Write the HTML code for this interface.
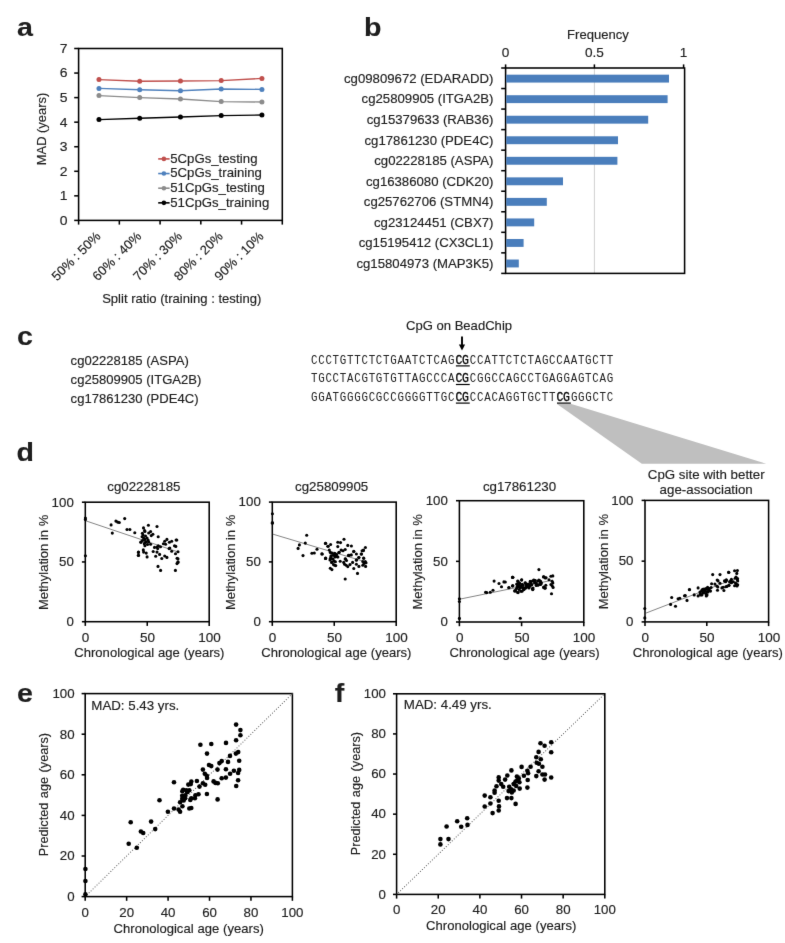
<!DOCTYPE html>
<html><head><meta charset="utf-8"><style>
html,body{margin:0;padding:0;background:#fff;overflow:hidden;}
svg{display:block;}
text{font-family:"Liberation Sans",sans-serif;stroke:#1e1e1e;stroke-width:0.15px;}
.mono{font-family:"Liberation Mono",monospace;stroke:none;fill:#222;}
.mono.b{stroke:#000;stroke-width:0.3px;fill:#000;}

</style></head><body>
<svg width="785" height="943" viewBox="0 0 785 943" fill="#1e1e1e">
<defs><filter id="bl" x="0" y="0" width="785" height="943" filterUnits="userSpaceOnUse" primitiveUnits="userSpaceOnUse" color-interpolation-filters="sRGB"><feConvolveMatrix order="3" kernelMatrix="0.00524 0.06192 0.00524 0.06192 0.73137 0.06192 0.00524 0.06192 0.00524" divisor="1" edgeMode="duplicate" preserveAlpha="true"/></filter></defs>
<g filter="url(#bl)">
<rect width="785" height="943" fill="#fff"/>
<text transform="translate(16.9,35.6) scale(1.1,1)" font-size="26" font-weight="bold">a</text>
<text transform="translate(364,35.8) scale(1.1,1)" font-size="26" font-weight="bold">b</text>
<text transform="translate(16.9,344.6) scale(1.1,1)" font-size="26" font-weight="bold">c</text>
<text transform="translate(16.6,461.4) scale(1.1,1)" font-size="26" font-weight="bold">d</text>
<text transform="translate(17,702.3) scale(1.1,1)" font-size="26" font-weight="bold">e</text>
<text transform="translate(334.8,701.9) scale(1.1,1)" font-size="26" font-weight="bold">f</text>
<rect x="78.6" y="48.5" width="203.7" height="171.9" fill="none" stroke="#000" stroke-width="1.55"/>
<line x1="74.2" y1="220.4" x2="78.6" y2="220.4" stroke="#000" stroke-width="1.55"/>
<text transform="translate(67.6,224.8) scale(1.09,1)" font-size="12.8" text-anchor="end">0</text>
<line x1="74.2" y1="195.84" x2="78.6" y2="195.84" stroke="#000" stroke-width="1.55"/>
<text transform="translate(67.6,200.24) scale(1.09,1)" font-size="12.8" text-anchor="end">1</text>
<line x1="74.2" y1="171.29" x2="78.6" y2="171.29" stroke="#000" stroke-width="1.55"/>
<text transform="translate(67.6,175.69) scale(1.09,1)" font-size="12.8" text-anchor="end">2</text>
<line x1="74.2" y1="146.73" x2="78.6" y2="146.73" stroke="#000" stroke-width="1.55"/>
<text transform="translate(67.6,151.13) scale(1.09,1)" font-size="12.8" text-anchor="end">3</text>
<line x1="74.2" y1="122.17" x2="78.6" y2="122.17" stroke="#000" stroke-width="1.55"/>
<text transform="translate(67.6,126.57) scale(1.09,1)" font-size="12.8" text-anchor="end">4</text>
<line x1="74.2" y1="97.61" x2="78.6" y2="97.61" stroke="#000" stroke-width="1.55"/>
<text transform="translate(67.6,102.01) scale(1.09,1)" font-size="12.8" text-anchor="end">5</text>
<line x1="74.2" y1="73.06" x2="78.6" y2="73.06" stroke="#000" stroke-width="1.55"/>
<text transform="translate(67.6,77.46) scale(1.09,1)" font-size="12.8" text-anchor="end">6</text>
<line x1="74.2" y1="48.5" x2="78.6" y2="48.5" stroke="#000" stroke-width="1.55"/>
<text transform="translate(67.6,52.9) scale(1.09,1)" font-size="12.8" text-anchor="end">7</text>
<line x1="78.6" y1="220.4" x2="78.6" y2="224.6" stroke="#000" stroke-width="1.55"/>
<line x1="119.34" y1="220.4" x2="119.34" y2="224.6" stroke="#000" stroke-width="1.55"/>
<line x1="160.08" y1="220.4" x2="160.08" y2="224.6" stroke="#000" stroke-width="1.55"/>
<line x1="200.82" y1="220.4" x2="200.82" y2="224.6" stroke="#000" stroke-width="1.55"/>
<line x1="241.56" y1="220.4" x2="241.56" y2="224.6" stroke="#000" stroke-width="1.55"/>
<line x1="282.3" y1="220.4" x2="282.3" y2="224.6" stroke="#000" stroke-width="1.55"/>
<text transform="translate(101.37,237) rotate(-45)" font-size="13" text-anchor="end">50% : 50%</text>
<text transform="translate(142.11,237) rotate(-45)" font-size="13" text-anchor="end">60% : 40%</text>
<text transform="translate(182.85,237) rotate(-45)" font-size="13" text-anchor="end">70% : 30%</text>
<text transform="translate(223.59,237) rotate(-45)" font-size="13" text-anchor="end">80% : 20%</text>
<text transform="translate(264.33,237) rotate(-45)" font-size="13" text-anchor="end">90% : 10%</text>
<text transform="translate(181.7,303) scale(1.09,1)" font-size="12" text-anchor="middle">Split ratio (training : testing)</text>
<text transform="translate(45.6,129) scale(1.04,1) rotate(-90)" font-size="12.9" text-anchor="middle">MAD (years)</text>
<polyline points="98.97,79.6 139.71,81.2 180.45,81 221.19,80.6 261.93,78.4" fill="none" stroke="#c0504d" stroke-width="1.4"/>
<circle cx="98.97" cy="79.6" r="2.5" fill="#c0504d"/>
<circle cx="139.71" cy="81.2" r="2.5" fill="#c0504d"/>
<circle cx="180.45" cy="81" r="2.5" fill="#c0504d"/>
<circle cx="221.19" cy="80.6" r="2.5" fill="#c0504d"/>
<circle cx="261.93" cy="78.4" r="2.5" fill="#c0504d"/>
<polyline points="98.97,88.4 139.71,89.8 180.45,90.8 221.19,89 261.93,89.4" fill="none" stroke="#4f81bd" stroke-width="1.4"/>
<circle cx="98.97" cy="88.4" r="2.5" fill="#4f81bd"/>
<circle cx="139.71" cy="89.8" r="2.5" fill="#4f81bd"/>
<circle cx="180.45" cy="90.8" r="2.5" fill="#4f81bd"/>
<circle cx="221.19" cy="89" r="2.5" fill="#4f81bd"/>
<circle cx="261.93" cy="89.4" r="2.5" fill="#4f81bd"/>
<polyline points="98.97,95.6 139.71,97.6 180.45,99 221.19,101.6 261.93,102" fill="none" stroke="#8c8c8c" stroke-width="1.4"/>
<circle cx="98.97" cy="95.6" r="2.5" fill="#8c8c8c"/>
<circle cx="139.71" cy="97.6" r="2.5" fill="#8c8c8c"/>
<circle cx="180.45" cy="99" r="2.5" fill="#8c8c8c"/>
<circle cx="221.19" cy="101.6" r="2.5" fill="#8c8c8c"/>
<circle cx="261.93" cy="102" r="2.5" fill="#8c8c8c"/>
<polyline points="98.97,119.6 139.71,118.2 180.45,117 221.19,115.6 261.93,115" fill="none" stroke="#000000" stroke-width="1.4"/>
<circle cx="98.97" cy="119.6" r="2.5" fill="#000000"/>
<circle cx="139.71" cy="118.2" r="2.5" fill="#000000"/>
<circle cx="180.45" cy="117" r="2.5" fill="#000000"/>
<circle cx="221.19" cy="115.6" r="2.5" fill="#000000"/>
<circle cx="261.93" cy="115" r="2.5" fill="#000000"/>
<line x1="158.2" y1="158.9" x2="169.6" y2="158.9" stroke="#c0504d" stroke-width="1.6"/>
<circle cx="163.9" cy="158.9" r="2.3" fill="#c0504d"/>
<text transform="translate(170.2,162.8) scale(1.1,1)" font-size="12">5CpGs_testing</text>
<line x1="158.2" y1="173.55" x2="169.6" y2="173.55" stroke="#4f81bd" stroke-width="1.6"/>
<circle cx="163.9" cy="173.55" r="2.3" fill="#4f81bd"/>
<text transform="translate(170.2,177.45) scale(1.1,1)" font-size="12">5CpGs_training</text>
<line x1="158.2" y1="188.2" x2="169.6" y2="188.2" stroke="#8c8c8c" stroke-width="1.6"/>
<circle cx="163.9" cy="188.2" r="2.3" fill="#8c8c8c"/>
<text transform="translate(170.2,192.1) scale(1.1,1)" font-size="12">51CpGs_testing</text>
<line x1="158.2" y1="202.85" x2="169.6" y2="202.85" stroke="#000000" stroke-width="1.6"/>
<circle cx="163.9" cy="202.85" r="2.3" fill="#000000"/>
<text transform="translate(170.2,206.75) scale(1.1,1)" font-size="12">51CpGs_training</text>
<line x1="594.4" y1="68" x2="594.4" y2="273.4" stroke="#d0d0d0" stroke-width="1"/>
<rect x="505.6" y="68" width="179" height="205.4" fill="none" stroke="#000" stroke-width="1.55"/>
<line x1="505.6" y1="64.4" x2="505.6" y2="68" stroke="#000" stroke-width="1.55"/>
<text transform="translate(505.6,56.7) scale(1.09,1)" font-size="12.5" text-anchor="middle">0</text>
<line x1="594.4" y1="64.4" x2="594.4" y2="68" stroke="#000" stroke-width="1.55"/>
<text transform="translate(594.4,56.7) scale(1.09,1)" font-size="12.5" text-anchor="middle">0.5</text>
<line x1="683.6" y1="64.4" x2="683.6" y2="68" stroke="#000" stroke-width="1.55"/>
<text transform="translate(683.6,56.7) scale(1.09,1)" font-size="12.5" text-anchor="middle">1</text>
<text transform="translate(598,39.4) scale(1.09,1)" font-size="12" text-anchor="middle">Frequency</text>
<line x1="501.2" y1="68" x2="505.6" y2="68" stroke="#000" stroke-width="1.55"/>
<line x1="501.2" y1="88.54" x2="505.6" y2="88.54" stroke="#000" stroke-width="1.55"/>
<line x1="501.2" y1="109.08" x2="505.6" y2="109.08" stroke="#000" stroke-width="1.55"/>
<line x1="501.2" y1="129.62" x2="505.6" y2="129.62" stroke="#000" stroke-width="1.55"/>
<line x1="501.2" y1="150.16" x2="505.6" y2="150.16" stroke="#000" stroke-width="1.55"/>
<line x1="501.2" y1="170.7" x2="505.6" y2="170.7" stroke="#000" stroke-width="1.55"/>
<line x1="501.2" y1="191.24" x2="505.6" y2="191.24" stroke="#000" stroke-width="1.55"/>
<line x1="501.2" y1="211.78" x2="505.6" y2="211.78" stroke="#000" stroke-width="1.55"/>
<line x1="501.2" y1="232.32" x2="505.6" y2="232.32" stroke="#000" stroke-width="1.55"/>
<line x1="501.2" y1="252.86" x2="505.6" y2="252.86" stroke="#000" stroke-width="1.55"/>
<line x1="501.2" y1="273.4" x2="505.6" y2="273.4" stroke="#000" stroke-width="1.55"/>
<rect x="506.2" y="74.67" width="162.8" height="7.9" fill="#4a7ebc"/>
<text transform="translate(493.4,82.92) scale(1.09,1)" font-size="12.1" text-anchor="end">cg09809672 (EDARADD)</text>
<rect x="506.2" y="95.21" width="161.4" height="7.9" fill="#4a7ebc"/>
<text transform="translate(493.4,103.46) scale(1.09,1)" font-size="12.1" text-anchor="end">cg25809905 (ITGA2B)</text>
<rect x="506.2" y="115.75" width="142" height="7.9" fill="#4a7ebc"/>
<text transform="translate(493.4,124) scale(1.09,1)" font-size="12.1" text-anchor="end">cg15379633 (RAB36)</text>
<rect x="506.2" y="136.29" width="111.8" height="7.9" fill="#4a7ebc"/>
<text transform="translate(493.4,144.54) scale(1.09,1)" font-size="12.1" text-anchor="end">cg17861230 (PDE4C)</text>
<rect x="506.2" y="156.83" width="111.2" height="7.9" fill="#4a7ebc"/>
<text transform="translate(493.4,165.08) scale(1.09,1)" font-size="12.1" text-anchor="end">cg02228185 (ASPA)</text>
<rect x="506.2" y="177.37" width="56.8" height="7.9" fill="#4a7ebc"/>
<text transform="translate(493.4,185.62) scale(1.09,1)" font-size="12.1" text-anchor="end">cg16386080 (CDK20)</text>
<rect x="506.2" y="197.91" width="40.6" height="7.9" fill="#4a7ebc"/>
<text transform="translate(493.4,206.16) scale(1.09,1)" font-size="12.1" text-anchor="end">cg25762706 (STMN4)</text>
<rect x="506.2" y="218.45" width="28" height="7.9" fill="#4a7ebc"/>
<text transform="translate(493.4,226.7) scale(1.09,1)" font-size="12.1" text-anchor="end">cg23124451 (CBX7)</text>
<rect x="506.2" y="238.99" width="17.4" height="7.9" fill="#4a7ebc"/>
<text transform="translate(493.4,247.24) scale(1.09,1)" font-size="12.1" text-anchor="end">cg15195412 (CX3CL1)</text>
<rect x="506.2" y="259.53" width="12.6" height="7.9" fill="#4a7ebc"/>
<text transform="translate(493.4,267.78) scale(1.09,1)" font-size="12.1" text-anchor="end">cg15804973 (MAP3K5)</text>
<text transform="translate(70.6,365.4) scale(1.09,1)" font-size="12">cg02228185 (ASPA)</text>
<text transform="translate(70.6,384) scale(1.09,1)" font-size="12">cg25809905 (ITGA2B)</text>
<text transform="translate(70.6,402.6) scale(1.09,1)" font-size="12">cg17861230 (PDE4C)</text>
<polygon points="557.0,403.9 571.4,403.9 766.2,463.8 641.8,463.8" fill="#bfbfbf"/>
<text class="mono" transform="translate(311,363.8) scale(0.88,1)" font-size="12.3" textLength="162.95" lengthAdjust="spacing">CCCTGTTCTCTGAATCTCAG</text>
<text class="mono b" transform="translate(455.4,363.8) scale(0.93,1)" font-size="12.3" textLength="14.45" lengthAdjust="spacing">CG</text>
<line x1="455.9" y1="365.9" x2="469.74" y2="365.9" stroke="#000" stroke-width="1.2"/>
<text class="mono" transform="translate(469.84,363.8) scale(0.88,1)" font-size="12.3" textLength="162.95" lengthAdjust="spacing">CCATTCTCTAGCCAATGCTT</text>
<text class="mono" transform="translate(311,382.4) scale(0.88,1)" font-size="12.3" textLength="162.95" lengthAdjust="spacing">TGCCTACGTGTGTTAGCCCA</text>
<text class="mono b" transform="translate(455.4,382.4) scale(0.93,1)" font-size="12.3" textLength="14.45" lengthAdjust="spacing">CG</text>
<line x1="455.9" y1="384.5" x2="469.74" y2="384.5" stroke="#000" stroke-width="1.2"/>
<text class="mono" transform="translate(469.84,382.4) scale(0.88,1)" font-size="12.3" textLength="162.95" lengthAdjust="spacing">CGGCCAGCCTGAGGAGTCAG</text>
<text class="mono" transform="translate(311,401) scale(0.88,1)" font-size="12.3" textLength="162.95" lengthAdjust="spacing">GGATGGGGCGCCGGGGTTGC</text>
<text class="mono b" transform="translate(455.4,401) scale(0.93,1)" font-size="12.3" textLength="14.45" lengthAdjust="spacing">CG</text>
<line x1="455.9" y1="403.1" x2="469.74" y2="403.1" stroke="#000" stroke-width="1.2"/>
<text class="mono" transform="translate(469.84,401) scale(0.88,1)" font-size="12.3" textLength="97.32" lengthAdjust="spacing">CCACAGGTGCTT</text>
<text class="mono b" transform="translate(556.48,401) scale(0.93,1)" font-size="12.3" textLength="14.45" lengthAdjust="spacing">CG</text>
<line x1="556.98" y1="403.1" x2="570.82" y2="403.1" stroke="#000" stroke-width="1.2"/>
<text class="mono" transform="translate(570.92,401) scale(0.88,1)" font-size="12.3" textLength="48.09" lengthAdjust="spacing">GGGCTC</text>
<text transform="translate(459,330) scale(1.09,1)" font-size="12" text-anchor="middle">CpG on BeadChip</text>
<line x1="462" y1="336.6" x2="462" y2="346" stroke="#000" stroke-width="1.9"/>
<polygon points="458.9,344.6 465.1,344.6 462,350.4" fill="#000"/>
<rect x="85.3" y="502.2" width="123.9" height="119.5" fill="none" stroke="#000" stroke-width="1.55"/>
<line x1="85.4" y1="520.7" x2="177" y2="551.6" stroke="#333" stroke-width="0.6"/>
<circle cx="85.4" cy="518" r="1.55" fill="#000"/>
<circle cx="85.4" cy="519.6" r="1.55" fill="#000"/>
<circle cx="85.4" cy="555.7" r="1.55" fill="#000"/>
<circle cx="111.1" cy="524.9" r="1.55" fill="#000"/>
<circle cx="112.3" cy="533.1" r="1.55" fill="#000"/>
<circle cx="115.9" cy="521.1" r="1.55" fill="#000"/>
<circle cx="117.6" cy="522.1" r="1.55" fill="#000"/>
<circle cx="119.3" cy="522.5" r="1.55" fill="#000"/>
<circle cx="124.7" cy="518.6" r="1.55" fill="#000"/>
<circle cx="127" cy="529.5" r="1.55" fill="#000"/>
<circle cx="129.9" cy="529.5" r="1.55" fill="#000"/>
<circle cx="134.8" cy="532.7" r="1.55" fill="#000"/>
<circle cx="138.4" cy="552.4" r="1.55" fill="#000"/>
<circle cx="138.4" cy="555.5" r="1.55" fill="#000"/>
<circle cx="141" cy="542.1" r="1.55" fill="#000"/>
<circle cx="148.4" cy="525.2" r="1.55" fill="#000"/>
<circle cx="157" cy="526.5" r="1.55" fill="#000"/>
<circle cx="143.5" cy="527.9" r="1.55" fill="#000"/>
<circle cx="144.6" cy="530.5" r="1.55" fill="#000"/>
<circle cx="144.9" cy="531.4" r="1.55" fill="#000"/>
<circle cx="142.4" cy="533.3" r="1.55" fill="#000"/>
<circle cx="150.6" cy="531.6" r="1.55" fill="#000"/>
<circle cx="148.7" cy="533" r="1.55" fill="#000"/>
<circle cx="152.9" cy="534.3" r="1.55" fill="#000"/>
<circle cx="151.3" cy="535.6" r="1.55" fill="#000"/>
<circle cx="158.2" cy="536.7" r="1.55" fill="#000"/>
<circle cx="142.1" cy="536.8" r="1.55" fill="#000"/>
<circle cx="143.6" cy="538.1" r="1.55" fill="#000"/>
<circle cx="144.9" cy="539.4" r="1.55" fill="#000"/>
<circle cx="148.1" cy="540" r="1.55" fill="#000"/>
<circle cx="140.8" cy="542.3" r="1.55" fill="#000"/>
<circle cx="146.2" cy="541.9" r="1.55" fill="#000"/>
<circle cx="148.7" cy="541.9" r="1.55" fill="#000"/>
<circle cx="144.3" cy="543.8" r="1.55" fill="#000"/>
<circle cx="144.9" cy="545.8" r="1.55" fill="#000"/>
<circle cx="147.5" cy="544.5" r="1.55" fill="#000"/>
<circle cx="150.6" cy="544.2" r="1.55" fill="#000"/>
<circle cx="166.9" cy="539.4" r="1.55" fill="#000"/>
<circle cx="164.7" cy="541.3" r="1.55" fill="#000"/>
<circle cx="163.4" cy="543.8" r="1.55" fill="#000"/>
<circle cx="165.6" cy="544.2" r="1.55" fill="#000"/>
<circle cx="169.4" cy="542.3" r="1.55" fill="#000"/>
<circle cx="171.7" cy="541.3" r="1.55" fill="#000"/>
<circle cx="176.1" cy="540" r="1.55" fill="#000"/>
<circle cx="176.8" cy="540" r="1.55" fill="#000"/>
<circle cx="174.5" cy="545.8" r="1.55" fill="#000"/>
<circle cx="175.8" cy="546.4" r="1.55" fill="#000"/>
<circle cx="154.5" cy="547.4" r="1.55" fill="#000"/>
<circle cx="157" cy="547" r="1.55" fill="#000"/>
<circle cx="158.3" cy="545.8" r="1.55" fill="#000"/>
<circle cx="160.5" cy="546.7" r="1.55" fill="#000"/>
<circle cx="157.7" cy="548.6" r="1.55" fill="#000"/>
<circle cx="169.8" cy="548" r="1.55" fill="#000"/>
<circle cx="169.1" cy="548.6" r="1.55" fill="#000"/>
<circle cx="171.7" cy="551.2" r="1.55" fill="#000"/>
<circle cx="178" cy="551.8" r="1.55" fill="#000"/>
<circle cx="175.5" cy="553.7" r="1.55" fill="#000"/>
<circle cx="143.3" cy="549.9" r="1.55" fill="#000"/>
<circle cx="143.6" cy="552.1" r="1.55" fill="#000"/>
<circle cx="146.2" cy="553.1" r="1.55" fill="#000"/>
<circle cx="138.5" cy="552.1" r="1.55" fill="#000"/>
<circle cx="138.5" cy="555.3" r="1.55" fill="#000"/>
<circle cx="153.2" cy="551.5" r="1.55" fill="#000"/>
<circle cx="157" cy="552.1" r="1.55" fill="#000"/>
<circle cx="159.6" cy="554.4" r="1.55" fill="#000"/>
<circle cx="147.1" cy="556.9" r="1.55" fill="#000"/>
<circle cx="155.7" cy="556.3" r="1.55" fill="#000"/>
<circle cx="161.8" cy="558.5" r="1.55" fill="#000"/>
<circle cx="164.7" cy="556" r="1.55" fill="#000"/>
<circle cx="166.9" cy="557.4" r="1.55" fill="#000"/>
<circle cx="177.1" cy="558.2" r="1.55" fill="#000"/>
<circle cx="178" cy="558.8" r="1.55" fill="#000"/>
<circle cx="178" cy="561.7" r="1.55" fill="#000"/>
<circle cx="158" cy="566.4" r="1.55" fill="#000"/>
<circle cx="160.6" cy="570.4" r="1.55" fill="#000"/>
<circle cx="175.4" cy="570.4" r="1.55" fill="#000"/>
<circle cx="177" cy="563.6" r="1.55" fill="#000"/>
<circle cx="178" cy="562.4" r="1.55" fill="#000"/>
<circle cx="143" cy="535" r="1.55" fill="#000"/>
<circle cx="145.5" cy="536" r="1.55" fill="#000"/>
<circle cx="147" cy="538" r="1.55" fill="#000"/>
<circle cx="145" cy="542.5" r="1.55" fill="#000"/>
<circle cx="142.5" cy="540.5" r="1.55" fill="#000"/>
<line x1="81.9" y1="621.7" x2="85.3" y2="621.7" stroke="#000" stroke-width="1.55"/>
<text transform="translate(73.8,626) scale(1.09,1)" font-size="12.2" text-anchor="end">0</text>
<line x1="85.3" y1="621.7" x2="85.3" y2="625.9" stroke="#000" stroke-width="1.55"/>
<text transform="translate(85.6,641.9) scale(1.09,1)" font-size="12.4" text-anchor="middle">0</text>
<line x1="81.9" y1="561.95" x2="85.3" y2="561.95" stroke="#000" stroke-width="1.55"/>
<text transform="translate(73.8,566.25) scale(1.09,1)" font-size="12.2" text-anchor="end">50</text>
<line x1="147.25" y1="621.7" x2="147.25" y2="625.9" stroke="#000" stroke-width="1.55"/>
<text transform="translate(147.55,641.9) scale(1.09,1)" font-size="12.4" text-anchor="middle">50</text>
<line x1="81.9" y1="502.2" x2="85.3" y2="502.2" stroke="#000" stroke-width="1.55"/>
<text transform="translate(73.8,506.5) scale(1.09,1)" font-size="12.2" text-anchor="end">100</text>
<line x1="209.2" y1="621.7" x2="209.2" y2="625.9" stroke="#000" stroke-width="1.55"/>
<text transform="translate(209.5,641.9) scale(1.09,1)" font-size="12.4" text-anchor="middle">100</text>
<text transform="translate(143.85,491.2) scale(1.11,1)" font-size="12" text-anchor="middle">cg02228185</text>
<text transform="translate(149.35,657.4) scale(1.09,1)" font-size="12" text-anchor="middle" word-spacing="0.2">Chronological age (years)</text>
<text transform="translate(48.3,562.45) scale(1.04,1) rotate(-90)" font-size="13" text-anchor="middle">Methylation in %</text>
<rect x="272.3" y="502.1" width="123.9" height="119.6" fill="none" stroke="#000" stroke-width="1.55"/>
<line x1="272.4" y1="534" x2="366" y2="562" stroke="#333" stroke-width="0.6"/>
<circle cx="272.4" cy="513.8" r="1.55" fill="#000"/>
<circle cx="272.4" cy="522.6" r="1.55" fill="#000"/>
<circle cx="272.4" cy="523.3" r="1.55" fill="#000"/>
<circle cx="306.7" cy="535.2" r="1.55" fill="#000"/>
<circle cx="305.3" cy="543.1" r="1.55" fill="#000"/>
<circle cx="299.4" cy="544.9" r="1.55" fill="#000"/>
<circle cx="298.1" cy="548.4" r="1.55" fill="#000"/>
<circle cx="303" cy="555.6" r="1.55" fill="#000"/>
<circle cx="311.9" cy="553.3" r="1.55" fill="#000"/>
<circle cx="314.3" cy="553" r="1.55" fill="#000"/>
<circle cx="317" cy="549.3" r="1.55" fill="#000"/>
<circle cx="321.8" cy="553.9" r="1.55" fill="#000"/>
<circle cx="325.4" cy="543.4" r="1.55" fill="#000"/>
<circle cx="327.9" cy="546.3" r="1.55" fill="#000"/>
<circle cx="325.6" cy="558.5" r="1.55" fill="#000"/>
<circle cx="344" cy="539.3" r="1.55" fill="#000"/>
<circle cx="337.8" cy="542.2" r="1.55" fill="#000"/>
<circle cx="340.5" cy="542.6" r="1.55" fill="#000"/>
<circle cx="325.7" cy="543.2" r="1.55" fill="#000"/>
<circle cx="330.6" cy="544.5" r="1.55" fill="#000"/>
<circle cx="328.1" cy="546.3" r="1.55" fill="#000"/>
<circle cx="337.8" cy="546.6" r="1.55" fill="#000"/>
<circle cx="347.8" cy="545.4" r="1.55" fill="#000"/>
<circle cx="351.4" cy="546" r="1.55" fill="#000"/>
<circle cx="365.4" cy="547.5" r="1.55" fill="#000"/>
<circle cx="363.4" cy="550.1" r="1.55" fill="#000"/>
<circle cx="362.1" cy="550.8" r="1.55" fill="#000"/>
<circle cx="345.2" cy="549.5" r="1.55" fill="#000"/>
<circle cx="343" cy="550.8" r="1.55" fill="#000"/>
<circle cx="341.1" cy="550.1" r="1.55" fill="#000"/>
<circle cx="339.1" cy="552.4" r="1.55" fill="#000"/>
<circle cx="329.3" cy="550.1" r="1.55" fill="#000"/>
<circle cx="353.8" cy="551.4" r="1.55" fill="#000"/>
<circle cx="356.4" cy="554" r="1.55" fill="#000"/>
<circle cx="361.2" cy="554" r="1.55" fill="#000"/>
<circle cx="349.1" cy="555.4" r="1.55" fill="#000"/>
<circle cx="351.3" cy="554.9" r="1.55" fill="#000"/>
<circle cx="322.3" cy="554" r="1.55" fill="#000"/>
<circle cx="330.3" cy="552.4" r="1.55" fill="#000"/>
<circle cx="332.2" cy="553.3" r="1.55" fill="#000"/>
<circle cx="334.7" cy="553.3" r="1.55" fill="#000"/>
<circle cx="335.4" cy="554.6" r="1.55" fill="#000"/>
<circle cx="331" cy="555.9" r="1.55" fill="#000"/>
<circle cx="333.5" cy="555.2" r="1.55" fill="#000"/>
<circle cx="337.9" cy="557" r="1.55" fill="#000"/>
<circle cx="336.6" cy="554.6" r="1.55" fill="#000"/>
<circle cx="325.7" cy="558.1" r="1.55" fill="#000"/>
<circle cx="330.9" cy="558.4" r="1.55" fill="#000"/>
<circle cx="345.6" cy="559" r="1.55" fill="#000"/>
<circle cx="358.9" cy="557.5" r="1.55" fill="#000"/>
<circle cx="363.7" cy="558.1" r="1.55" fill="#000"/>
<circle cx="356.4" cy="559.7" r="1.55" fill="#000"/>
<circle cx="325.5" cy="558.4" r="1.55" fill="#000"/>
<circle cx="330.3" cy="558.6" r="1.55" fill="#000"/>
<circle cx="331.6" cy="562.4" r="1.55" fill="#000"/>
<circle cx="335.4" cy="561.8" r="1.55" fill="#000"/>
<circle cx="333.5" cy="564.6" r="1.55" fill="#000"/>
<circle cx="334.7" cy="565.3" r="1.55" fill="#000"/>
<circle cx="335.7" cy="565.6" r="1.55" fill="#000"/>
<circle cx="330.3" cy="568.2" r="1.55" fill="#000"/>
<circle cx="331.9" cy="569.6" r="1.55" fill="#000"/>
<circle cx="340.2" cy="561.3" r="1.55" fill="#000"/>
<circle cx="343.7" cy="562.4" r="1.55" fill="#000"/>
<circle cx="345.2" cy="558.9" r="1.55" fill="#000"/>
<circle cx="346.5" cy="560.5" r="1.55" fill="#000"/>
<circle cx="344.6" cy="564.3" r="1.55" fill="#000"/>
<circle cx="346.2" cy="565.3" r="1.55" fill="#000"/>
<circle cx="347.8" cy="566.6" r="1.55" fill="#000"/>
<circle cx="350" cy="564.6" r="1.55" fill="#000"/>
<circle cx="352.6" cy="562.4" r="1.55" fill="#000"/>
<circle cx="353.8" cy="568.5" r="1.55" fill="#000"/>
<circle cx="356.4" cy="560.2" r="1.55" fill="#000"/>
<circle cx="356.4" cy="564.3" r="1.55" fill="#000"/>
<circle cx="358.9" cy="566.4" r="1.55" fill="#000"/>
<circle cx="358.8" cy="557.6" r="1.55" fill="#000"/>
<circle cx="357.5" cy="573.4" r="1.55" fill="#000"/>
<circle cx="345.2" cy="579" r="1.55" fill="#000"/>
<circle cx="361.5" cy="554.1" r="1.55" fill="#000"/>
<circle cx="363.7" cy="558.3" r="1.55" fill="#000"/>
<circle cx="362.8" cy="561.5" r="1.55" fill="#000"/>
<circle cx="365.3" cy="561.5" r="1.55" fill="#000"/>
<circle cx="364" cy="563.4" r="1.55" fill="#000"/>
<circle cx="366" cy="562.7" r="1.55" fill="#000"/>
<circle cx="362.8" cy="565.3" r="1.55" fill="#000"/>
<circle cx="365.6" cy="566.4" r="1.55" fill="#000"/>
<circle cx="353.8" cy="551.6" r="1.55" fill="#000"/>
<circle cx="338.9" cy="552.5" r="1.55" fill="#000"/>
<circle cx="348.4" cy="555.4" r="1.55" fill="#000"/>
<circle cx="363.4" cy="550.6" r="1.55" fill="#000"/>
<circle cx="337.3" cy="556.7" r="1.55" fill="#000"/>
<circle cx="331" cy="557" r="1.55" fill="#000"/>
<circle cx="333" cy="559" r="1.55" fill="#000"/>
<circle cx="334" cy="561" r="1.55" fill="#000"/>
<circle cx="332" cy="562" r="1.55" fill="#000"/>
<circle cx="335" cy="557" r="1.55" fill="#000"/>
<circle cx="334" cy="555" r="1.55" fill="#000"/>
<circle cx="330" cy="560" r="1.55" fill="#000"/>
<line x1="268.9" y1="621.7" x2="272.3" y2="621.7" stroke="#000" stroke-width="1.55"/>
<text transform="translate(260.8,626) scale(1.09,1)" font-size="12.2" text-anchor="end">0</text>
<line x1="272.3" y1="621.7" x2="272.3" y2="625.9" stroke="#000" stroke-width="1.55"/>
<text transform="translate(272.6,641.9) scale(1.09,1)" font-size="12.4" text-anchor="middle">0</text>
<line x1="268.9" y1="561.9" x2="272.3" y2="561.9" stroke="#000" stroke-width="1.55"/>
<text transform="translate(260.8,566.2) scale(1.09,1)" font-size="12.2" text-anchor="end">50</text>
<line x1="334.25" y1="621.7" x2="334.25" y2="625.9" stroke="#000" stroke-width="1.55"/>
<text transform="translate(334.55,641.9) scale(1.09,1)" font-size="12.4" text-anchor="middle">50</text>
<line x1="268.9" y1="502.1" x2="272.3" y2="502.1" stroke="#000" stroke-width="1.55"/>
<text transform="translate(260.8,506.4) scale(1.09,1)" font-size="12.2" text-anchor="end">100</text>
<line x1="396.2" y1="621.7" x2="396.2" y2="625.9" stroke="#000" stroke-width="1.55"/>
<text transform="translate(396.5,641.9) scale(1.09,1)" font-size="12.4" text-anchor="middle">100</text>
<text transform="translate(331.65,490.9) scale(1.11,1)" font-size="12" text-anchor="middle">cg25809905</text>
<text transform="translate(336.4,657.4) scale(1.09,1)" font-size="12" text-anchor="middle" word-spacing="0.2">Chronological age (years)</text>
<text transform="translate(235.3,562.4) scale(1.04,1) rotate(-90)" font-size="13" text-anchor="middle">Methylation in %</text>
<rect x="459.4" y="500.7" width="124.4" height="121.3" fill="none" stroke="#000" stroke-width="1.55"/>
<line x1="459.6" y1="599.2" x2="553" y2="580.1" stroke="#333" stroke-width="0.6"/>
<circle cx="459.4" cy="598.7" r="1.55" fill="#000"/>
<circle cx="459.4" cy="601.5" r="1.55" fill="#000"/>
<circle cx="459.4" cy="618.4" r="1.55" fill="#000"/>
<circle cx="520.3" cy="618.3" r="1.55" fill="#000"/>
<circle cx="485.6" cy="592.2" r="1.55" fill="#000"/>
<circle cx="486.7" cy="592.6" r="1.55" fill="#000"/>
<circle cx="490.3" cy="592.3" r="1.55" fill="#000"/>
<circle cx="493" cy="590.2" r="1.55" fill="#000"/>
<circle cx="494.1" cy="581.1" r="1.55" fill="#000"/>
<circle cx="499" cy="583.5" r="1.55" fill="#000"/>
<circle cx="501.5" cy="586.7" r="1.55" fill="#000"/>
<circle cx="503.9" cy="581.9" r="1.55" fill="#000"/>
<circle cx="508.9" cy="587.7" r="1.55" fill="#000"/>
<circle cx="512.5" cy="577.4" r="1.55" fill="#000"/>
<circle cx="512.5" cy="586" r="1.55" fill="#000"/>
<circle cx="514.6" cy="590.9" r="1.55" fill="#000"/>
<circle cx="538.9" cy="569.6" r="1.55" fill="#000"/>
<circle cx="512.6" cy="577.3" r="1.55" fill="#000"/>
<circle cx="505.3" cy="582" r="1.55" fill="#000"/>
<circle cx="508.9" cy="587.5" r="1.55" fill="#000"/>
<circle cx="512.6" cy="585.8" r="1.55" fill="#000"/>
<circle cx="517.7" cy="581" r="1.55" fill="#000"/>
<circle cx="521.6" cy="580.1" r="1.55" fill="#000"/>
<circle cx="517.1" cy="584.2" r="1.55" fill="#000"/>
<circle cx="519.6" cy="583.6" r="1.55" fill="#000"/>
<circle cx="522.2" cy="584.2" r="1.55" fill="#000"/>
<circle cx="517.7" cy="586.8" r="1.55" fill="#000"/>
<circle cx="520.3" cy="587.4" r="1.55" fill="#000"/>
<circle cx="522.8" cy="588" r="1.55" fill="#000"/>
<circle cx="515.2" cy="590.9" r="1.55" fill="#000"/>
<circle cx="517.7" cy="592.5" r="1.55" fill="#000"/>
<circle cx="520.9" cy="591.2" r="1.55" fill="#000"/>
<circle cx="524.1" cy="589.3" r="1.55" fill="#000"/>
<circle cx="525.4" cy="582.9" r="1.55" fill="#000"/>
<circle cx="527.3" cy="584.2" r="1.55" fill="#000"/>
<circle cx="526" cy="587.4" r="1.55" fill="#000"/>
<circle cx="529.2" cy="585.5" r="1.55" fill="#000"/>
<circle cx="530.5" cy="581.7" r="1.55" fill="#000"/>
<circle cx="532.4" cy="581" r="1.55" fill="#000"/>
<circle cx="534.3" cy="580.4" r="1.55" fill="#000"/>
<circle cx="531.8" cy="584.8" r="1.55" fill="#000"/>
<circle cx="533" cy="588" r="1.55" fill="#000"/>
<circle cx="532.7" cy="589.3" r="1.55" fill="#000"/>
<circle cx="536.2" cy="582.9" r="1.55" fill="#000"/>
<circle cx="538.1" cy="581" r="1.55" fill="#000"/>
<circle cx="539.7" cy="580.7" r="1.55" fill="#000"/>
<circle cx="540.7" cy="582.3" r="1.55" fill="#000"/>
<circle cx="540.7" cy="584.2" r="1.55" fill="#000"/>
<circle cx="538.1" cy="584.8" r="1.55" fill="#000"/>
<circle cx="536.2" cy="585.5" r="1.55" fill="#000"/>
<circle cx="543.5" cy="576.9" r="1.55" fill="#000"/>
<circle cx="546.1" cy="577.8" r="1.55" fill="#000"/>
<circle cx="545.8" cy="585.2" r="1.55" fill="#000"/>
<circle cx="543.9" cy="587.1" r="1.55" fill="#000"/>
<circle cx="544.8" cy="588.3" r="1.55" fill="#000"/>
<circle cx="549" cy="579.7" r="1.55" fill="#000"/>
<circle cx="550.9" cy="576.2" r="1.55" fill="#000"/>
<circle cx="552.8" cy="575.9" r="1.55" fill="#000"/>
<circle cx="552.1" cy="581.3" r="1.55" fill="#000"/>
<circle cx="552.8" cy="582.9" r="1.55" fill="#000"/>
<circle cx="550.9" cy="584.5" r="1.55" fill="#000"/>
<circle cx="552.1" cy="585.8" r="1.55" fill="#000"/>
<circle cx="553.1" cy="587.4" r="1.55" fill="#000"/>
<circle cx="551.5" cy="593.8" r="1.55" fill="#000"/>
<circle cx="521.7" cy="579.8" r="1.55" fill="#000"/>
<circle cx="518.1" cy="581.4" r="1.55" fill="#000"/>
<circle cx="516.8" cy="584" r="1.55" fill="#000"/>
<circle cx="518.5" cy="585.3" r="1.55" fill="#000"/>
<circle cx="517.2" cy="586.6" r="1.55" fill="#000"/>
<circle cx="520.7" cy="586.1" r="1.55" fill="#000"/>
<circle cx="520.2" cy="587.9" r="1.55" fill="#000"/>
<circle cx="515.5" cy="590.7" r="1.55" fill="#000"/>
<circle cx="518.1" cy="592.6" r="1.55" fill="#000"/>
<circle cx="522" cy="591.3" r="1.55" fill="#000"/>
<circle cx="523.7" cy="589.6" r="1.55" fill="#000"/>
<circle cx="525" cy="583.1" r="1.55" fill="#000"/>
<circle cx="526.3" cy="584.8" r="1.55" fill="#000"/>
<circle cx="527.6" cy="586.6" r="1.55" fill="#000"/>
<circle cx="525.9" cy="587.9" r="1.55" fill="#000"/>
<circle cx="528.5" cy="584" r="1.55" fill="#000"/>
<circle cx="530.2" cy="581.4" r="1.55" fill="#000"/>
<circle cx="531.1" cy="583.5" r="1.55" fill="#000"/>
<circle cx="530.2" cy="586.1" r="1.55" fill="#000"/>
<circle cx="532.4" cy="588.7" r="1.55" fill="#000"/>
<circle cx="532.8" cy="589.6" r="1.55" fill="#000"/>
<circle cx="533.7" cy="580.1" r="1.55" fill="#000"/>
<circle cx="535.4" cy="580.5" r="1.55" fill="#000"/>
<circle cx="534.5" cy="582.7" r="1.55" fill="#000"/>
<circle cx="536.3" cy="584.8" r="1.55" fill="#000"/>
<circle cx="538" cy="585.3" r="1.55" fill="#000"/>
<circle cx="538.9" cy="580.1" r="1.55" fill="#000"/>
<circle cx="540.6" cy="581.4" r="1.55" fill="#000"/>
<circle cx="541.4" cy="583.1" r="1.55" fill="#000"/>
<circle cx="540.2" cy="584.4" r="1.55" fill="#000"/>
<circle cx="512.9" cy="577.2" r="1.55" fill="#000"/>
<circle cx="512.9" cy="585.7" r="1.55" fill="#000"/>
<circle cx="543.8" cy="576.8" r="1.55" fill="#000"/>
<circle cx="545.3" cy="577.9" r="1.55" fill="#000"/>
<circle cx="543.6" cy="587.4" r="1.55" fill="#000"/>
<circle cx="545.3" cy="587.9" r="1.55" fill="#000"/>
<circle cx="519.5" cy="583" r="1.55" fill="#000"/>
<circle cx="523" cy="585.5" r="1.55" fill="#000"/>
<circle cx="524" cy="588" r="1.55" fill="#000"/>
<circle cx="529" cy="588" r="1.55" fill="#000"/>
<circle cx="519" cy="589.5" r="1.55" fill="#000"/>
<circle cx="516.5" cy="588.5" r="1.55" fill="#000"/>
<line x1="456" y1="622" x2="459.4" y2="622" stroke="#000" stroke-width="1.55"/>
<text transform="translate(447.9,626.3) scale(1.09,1)" font-size="12.2" text-anchor="end">0</text>
<line x1="459.4" y1="622" x2="459.4" y2="626.2" stroke="#000" stroke-width="1.55"/>
<text transform="translate(459.7,641.9) scale(1.09,1)" font-size="12.4" text-anchor="middle">0</text>
<line x1="456" y1="561.35" x2="459.4" y2="561.35" stroke="#000" stroke-width="1.55"/>
<text transform="translate(447.9,565.65) scale(1.09,1)" font-size="12.2" text-anchor="end">50</text>
<line x1="521.6" y1="622" x2="521.6" y2="626.2" stroke="#000" stroke-width="1.55"/>
<text transform="translate(521.9,641.9) scale(1.09,1)" font-size="12.4" text-anchor="middle">50</text>
<line x1="456" y1="500.7" x2="459.4" y2="500.7" stroke="#000" stroke-width="1.55"/>
<text transform="translate(447.9,505) scale(1.09,1)" font-size="12.2" text-anchor="end">100</text>
<line x1="583.8" y1="622" x2="583.8" y2="626.2" stroke="#000" stroke-width="1.55"/>
<text transform="translate(584.1,641.9) scale(1.09,1)" font-size="12.4" text-anchor="middle">100</text>
<text transform="translate(519.5,490.6) scale(1.11,1)" font-size="12" text-anchor="middle">cg17861230</text>
<text transform="translate(524.55,657.4) scale(1.09,1)" font-size="12" text-anchor="middle" word-spacing="0.2">Chronological age (years)</text>
<text transform="translate(422.4,561.85) scale(1.04,1) rotate(-90)" font-size="13" text-anchor="middle">Methylation in %</text>
<rect x="645" y="500.4" width="123.6" height="121.5" fill="none" stroke="#000" stroke-width="1.55"/>
<line x1="645.4" y1="613.3" x2="737" y2="577.9" stroke="#333" stroke-width="0.6"/>
<circle cx="644.8" cy="608.5" r="1.55" fill="#000"/>
<circle cx="644.8" cy="617.9" r="1.55" fill="#000"/>
<circle cx="671.7" cy="597.5" r="1.55" fill="#000"/>
<circle cx="670.6" cy="604.4" r="1.55" fill="#000"/>
<circle cx="675.5" cy="606.2" r="1.55" fill="#000"/>
<circle cx="678.1" cy="598.7" r="1.55" fill="#000"/>
<circle cx="679.8" cy="598.3" r="1.55" fill="#000"/>
<circle cx="684.5" cy="595.8" r="1.55" fill="#000"/>
<circle cx="687" cy="600.4" r="1.55" fill="#000"/>
<circle cx="689.4" cy="589.7" r="1.55" fill="#000"/>
<circle cx="685.3" cy="595.6" r="1.55" fill="#000"/>
<circle cx="689.5" cy="589.5" r="1.55" fill="#000"/>
<circle cx="694.2" cy="594.9" r="1.55" fill="#000"/>
<circle cx="698.1" cy="587.9" r="1.55" fill="#000"/>
<circle cx="698.1" cy="595.9" r="1.55" fill="#000"/>
<circle cx="700.3" cy="593.7" r="1.55" fill="#000"/>
<circle cx="701.9" cy="594.9" r="1.55" fill="#000"/>
<circle cx="701.6" cy="591.1" r="1.55" fill="#000"/>
<circle cx="702.8" cy="589.2" r="1.55" fill="#000"/>
<circle cx="704.1" cy="592.4" r="1.55" fill="#000"/>
<circle cx="704.7" cy="590.5" r="1.55" fill="#000"/>
<circle cx="706" cy="588.6" r="1.55" fill="#000"/>
<circle cx="707.6" cy="587.3" r="1.55" fill="#000"/>
<circle cx="706.7" cy="591.8" r="1.55" fill="#000"/>
<circle cx="708.6" cy="590.5" r="1.55" fill="#000"/>
<circle cx="710.5" cy="591.1" r="1.55" fill="#000"/>
<circle cx="709.2" cy="588.6" r="1.55" fill="#000"/>
<circle cx="711.1" cy="587.6" r="1.55" fill="#000"/>
<circle cx="707" cy="594.9" r="1.55" fill="#000"/>
<circle cx="706.3" cy="595.9" r="1.55" fill="#000"/>
<circle cx="711.6" cy="583.8" r="1.55" fill="#000"/>
<circle cx="712.7" cy="574.6" r="1.55" fill="#000"/>
<circle cx="714.9" cy="584.1" r="1.55" fill="#000"/>
<circle cx="716.8" cy="586" r="1.55" fill="#000"/>
<circle cx="717.8" cy="587" r="1.55" fill="#000"/>
<circle cx="717.5" cy="590.2" r="1.55" fill="#000"/>
<circle cx="717.2" cy="580" r="1.55" fill="#000"/>
<circle cx="718.1" cy="580.9" r="1.55" fill="#000"/>
<circle cx="720" cy="583.2" r="1.55" fill="#000"/>
<circle cx="720" cy="574.6" r="1.55" fill="#000"/>
<circle cx="721.9" cy="587.9" r="1.55" fill="#000"/>
<circle cx="723.2" cy="587.3" r="1.55" fill="#000"/>
<circle cx="723.9" cy="590.5" r="1.55" fill="#000"/>
<circle cx="724.5" cy="580.9" r="1.55" fill="#000"/>
<circle cx="726.4" cy="580.3" r="1.55" fill="#000"/>
<circle cx="725.8" cy="586.7" r="1.55" fill="#000"/>
<circle cx="728.6" cy="572.3" r="1.55" fill="#000"/>
<circle cx="729" cy="585.4" r="1.55" fill="#000"/>
<circle cx="729.6" cy="581.9" r="1.55" fill="#000"/>
<circle cx="730.9" cy="580.6" r="1.55" fill="#000"/>
<circle cx="731.5" cy="582.8" r="1.55" fill="#000"/>
<circle cx="728.8" cy="572.4" r="1.55" fill="#000"/>
<circle cx="734.6" cy="570.8" r="1.55" fill="#000"/>
<circle cx="737.4" cy="570.5" r="1.55" fill="#000"/>
<circle cx="736.8" cy="573.4" r="1.55" fill="#000"/>
<circle cx="735.2" cy="578.2" r="1.55" fill="#000"/>
<circle cx="737.4" cy="579.7" r="1.55" fill="#000"/>
<circle cx="737.7" cy="581" r="1.55" fill="#000"/>
<circle cx="731.4" cy="579.4" r="1.55" fill="#000"/>
<circle cx="733.3" cy="581.7" r="1.55" fill="#000"/>
<circle cx="730.7" cy="582.3" r="1.55" fill="#000"/>
<circle cx="726.3" cy="579.7" r="1.55" fill="#000"/>
<circle cx="725.6" cy="581.7" r="1.55" fill="#000"/>
<circle cx="736.5" cy="584.2" r="1.55" fill="#000"/>
<circle cx="734.6" cy="585.8" r="1.55" fill="#000"/>
<circle cx="737.7" cy="584.8" r="1.55" fill="#000"/>
<circle cx="728.8" cy="585.2" r="1.55" fill="#000"/>
<circle cx="726.9" cy="586.4" r="1.55" fill="#000"/>
<circle cx="700" cy="592" r="1.55" fill="#000"/>
<circle cx="702" cy="590" r="1.55" fill="#000"/>
<circle cx="704" cy="589" r="1.55" fill="#000"/>
<circle cx="703" cy="593" r="1.55" fill="#000"/>
<circle cx="705" cy="591" r="1.55" fill="#000"/>
<circle cx="707" cy="589" r="1.55" fill="#000"/>
<circle cx="708" cy="592" r="1.55" fill="#000"/>
<circle cx="709" cy="589" r="1.55" fill="#000"/>
<circle cx="700.5" cy="595" r="1.55" fill="#000"/>
<circle cx="706" cy="594" r="1.55" fill="#000"/>
<circle cx="736" cy="577" r="1.55" fill="#000"/>
<circle cx="737.5" cy="578.5" r="1.55" fill="#000"/>
<circle cx="735.5" cy="583" r="1.55" fill="#000"/>
<circle cx="737" cy="586" r="1.55" fill="#000"/>
<line x1="641.6" y1="621.9" x2="645" y2="621.9" stroke="#000" stroke-width="1.55"/>
<text transform="translate(633.5,626.2) scale(1.09,1)" font-size="12.2" text-anchor="end">0</text>
<line x1="645" y1="621.9" x2="645" y2="626.1" stroke="#000" stroke-width="1.55"/>
<text transform="translate(645.3,641.9) scale(1.09,1)" font-size="12.4" text-anchor="middle">0</text>
<line x1="641.6" y1="561.15" x2="645" y2="561.15" stroke="#000" stroke-width="1.55"/>
<text transform="translate(633.5,565.45) scale(1.09,1)" font-size="12.2" text-anchor="end">50</text>
<line x1="706.8" y1="621.9" x2="706.8" y2="626.1" stroke="#000" stroke-width="1.55"/>
<text transform="translate(707.1,641.9) scale(1.09,1)" font-size="12.4" text-anchor="middle">50</text>
<line x1="641.6" y1="500.4" x2="645" y2="500.4" stroke="#000" stroke-width="1.55"/>
<text transform="translate(633.5,504.7) scale(1.09,1)" font-size="12.2" text-anchor="end">100</text>
<line x1="768.6" y1="621.9" x2="768.6" y2="626.1" stroke="#000" stroke-width="1.55"/>
<text transform="translate(768.9,641.9) scale(1.09,1)" font-size="12.4" text-anchor="middle">100</text>
<text transform="translate(706.2,478.6) scale(1.11,1)" font-size="12" text-anchor="middle">CpG site with better</text>
<text transform="translate(706.2,494) scale(1.11,1)" font-size="12" text-anchor="middle">age-association</text>
<text transform="translate(707.85,657.4) scale(1.09,1)" font-size="12" text-anchor="middle" word-spacing="0.2">Chronological age (years)</text>
<text transform="translate(608,561.65) scale(1.04,1) rotate(-90)" font-size="13" text-anchor="middle">Methylation in %</text>
<rect x="85.2" y="693.6" width="207.2" height="203" fill="none" stroke="#000" stroke-width="1.55"/>
<line x1="85.2" y1="896.6" x2="292.4" y2="693.6" stroke="#6a6a6a" stroke-width="1.15" stroke-dasharray="0.01,2.75" stroke-linecap="round"/>
<circle cx="85.4" cy="869" r="2.3" fill="#000"/>
<circle cx="85.4" cy="881" r="2.3" fill="#000"/>
<circle cx="85.4" cy="894.4" r="2.3" fill="#000"/>
<circle cx="130.7" cy="822.3" r="2.3" fill="#000"/>
<circle cx="151.1" cy="821.6" r="2.3" fill="#000"/>
<circle cx="140.9" cy="831.5" r="2.3" fill="#000"/>
<circle cx="143.2" cy="833" r="2.3" fill="#000"/>
<circle cx="155.2" cy="829.1" r="2.3" fill="#000"/>
<circle cx="128.7" cy="843.7" r="2.3" fill="#000"/>
<circle cx="136.8" cy="847.8" r="2.3" fill="#000"/>
<circle cx="159.5" cy="800.2" r="2.3" fill="#000"/>
<circle cx="167.9" cy="811.8" r="2.3" fill="#000"/>
<circle cx="174" cy="808.5" r="2.3" fill="#000"/>
<circle cx="178.6" cy="809.6" r="2.3" fill="#000"/>
<circle cx="180.1" cy="811.8" r="2.3" fill="#000"/>
<circle cx="182.4" cy="806.3" r="2.3" fill="#000"/>
<circle cx="180.1" cy="802.2" r="2.3" fill="#000"/>
<circle cx="182.2" cy="798.9" r="2.3" fill="#000"/>
<circle cx="183.7" cy="800.4" r="2.3" fill="#000"/>
<circle cx="185.2" cy="798.3" r="2.3" fill="#000"/>
<circle cx="182.2" cy="795.8" r="2.3" fill="#000"/>
<circle cx="185.2" cy="795.3" r="2.3" fill="#000"/>
<circle cx="187.3" cy="792.2" r="2.3" fill="#000"/>
<circle cx="183.2" cy="789.7" r="2.3" fill="#000"/>
<circle cx="186.2" cy="790.2" r="2.3" fill="#000"/>
<circle cx="189.3" cy="790.2" r="2.3" fill="#000"/>
<circle cx="174" cy="782.2" r="2.3" fill="#000"/>
<circle cx="188.3" cy="784.6" r="2.3" fill="#000"/>
<circle cx="190.8" cy="784.1" r="2.3" fill="#000"/>
<circle cx="191.3" cy="781.5" r="2.3" fill="#000"/>
<circle cx="196.9" cy="781" r="2.3" fill="#000"/>
<circle cx="199.5" cy="786.6" r="2.3" fill="#000"/>
<circle cx="190.3" cy="799.9" r="2.3" fill="#000"/>
<circle cx="191.3" cy="798.3" r="2.3" fill="#000"/>
<circle cx="194.9" cy="798.3" r="2.3" fill="#000"/>
<circle cx="195.4" cy="795.3" r="2.3" fill="#000"/>
<circle cx="198.5" cy="794.3" r="2.3" fill="#000"/>
<circle cx="189.3" cy="808.5" r="2.3" fill="#000"/>
<circle cx="191.3" cy="808" r="2.3" fill="#000"/>
<circle cx="209" cy="765" r="2.3" fill="#000"/>
<circle cx="211.3" cy="766.1" r="2.3" fill="#000"/>
<circle cx="202.9" cy="769.6" r="2.3" fill="#000"/>
<circle cx="204.8" cy="773.8" r="2.3" fill="#000"/>
<circle cx="206.8" cy="775.7" r="2.3" fill="#000"/>
<circle cx="207.1" cy="778" r="2.3" fill="#000"/>
<circle cx="217.5" cy="769.6" r="2.3" fill="#000"/>
<circle cx="219.4" cy="763.1" r="2.3" fill="#000"/>
<circle cx="221.7" cy="761.1" r="2.3" fill="#000"/>
<circle cx="228" cy="761.9" r="2.3" fill="#000"/>
<circle cx="225.9" cy="769.2" r="2.3" fill="#000"/>
<circle cx="230.1" cy="773.8" r="2.3" fill="#000"/>
<circle cx="233.9" cy="770.7" r="2.3" fill="#000"/>
<circle cx="238.1" cy="773" r="2.3" fill="#000"/>
<circle cx="239.2" cy="769.9" r="2.3" fill="#000"/>
<circle cx="239.2" cy="760.8" r="2.3" fill="#000"/>
<circle cx="221.7" cy="778.3" r="2.3" fill="#000"/>
<circle cx="225.9" cy="777.6" r="2.3" fill="#000"/>
<circle cx="213.6" cy="781.4" r="2.3" fill="#000"/>
<circle cx="215.5" cy="782.9" r="2.3" fill="#000"/>
<circle cx="217.8" cy="783.3" r="2.3" fill="#000"/>
<circle cx="238.1" cy="780.3" r="2.3" fill="#000"/>
<circle cx="236.2" cy="786" r="2.3" fill="#000"/>
<circle cx="202.9" cy="783.3" r="2.3" fill="#000"/>
<circle cx="205.2" cy="784.8" r="2.3" fill="#000"/>
<circle cx="182.3" cy="791.3" r="2.3" fill="#000"/>
<circle cx="206.9" cy="794" r="2.3" fill="#000"/>
<circle cx="217.6" cy="799.4" r="2.3" fill="#000"/>
<circle cx="236.1" cy="724.6" r="2.3" fill="#000"/>
<circle cx="240.4" cy="730.1" r="2.3" fill="#000"/>
<circle cx="240.4" cy="735.3" r="2.3" fill="#000"/>
<circle cx="236.1" cy="740.2" r="2.3" fill="#000"/>
<circle cx="226" cy="742.9" r="2.3" fill="#000"/>
<circle cx="211.3" cy="744" r="2.3" fill="#000"/>
<circle cx="200.4" cy="744.8" r="2.3" fill="#000"/>
<circle cx="207" cy="753.6" r="2.3" fill="#000"/>
<circle cx="238.2" cy="752.1" r="2.3" fill="#000"/>
<circle cx="235.9" cy="753.6" r="2.3" fill="#000"/>
<circle cx="230" cy="755.9" r="2.3" fill="#000"/>
<line x1="81.6" y1="896.6" x2="85.2" y2="896.6" stroke="#000" stroke-width="1.55"/>
<text transform="translate(74.6,900.9) scale(1.09,1)" font-size="12.2" text-anchor="end">0</text>
<line x1="85.2" y1="896.6" x2="85.2" y2="900.8" stroke="#000" stroke-width="1.55"/>
<text transform="translate(85.2,916.6) scale(1.09,1)" font-size="12.2" text-anchor="middle">0</text>
<line x1="81.6" y1="856" x2="85.2" y2="856" stroke="#000" stroke-width="1.55"/>
<text transform="translate(74.6,860.3) scale(1.09,1)" font-size="12.2" text-anchor="end">20</text>
<line x1="126.64" y1="896.6" x2="126.64" y2="900.8" stroke="#000" stroke-width="1.55"/>
<text transform="translate(126.64,916.6) scale(1.09,1)" font-size="12.2" text-anchor="middle">20</text>
<line x1="81.6" y1="815.4" x2="85.2" y2="815.4" stroke="#000" stroke-width="1.55"/>
<text transform="translate(74.6,819.7) scale(1.09,1)" font-size="12.2" text-anchor="end">40</text>
<line x1="168.08" y1="896.6" x2="168.08" y2="900.8" stroke="#000" stroke-width="1.55"/>
<text transform="translate(168.08,916.6) scale(1.09,1)" font-size="12.2" text-anchor="middle">40</text>
<line x1="81.6" y1="774.8" x2="85.2" y2="774.8" stroke="#000" stroke-width="1.55"/>
<text transform="translate(74.6,779.1) scale(1.09,1)" font-size="12.2" text-anchor="end">60</text>
<line x1="209.52" y1="896.6" x2="209.52" y2="900.8" stroke="#000" stroke-width="1.55"/>
<text transform="translate(209.52,916.6) scale(1.09,1)" font-size="12.2" text-anchor="middle">60</text>
<line x1="81.6" y1="734.2" x2="85.2" y2="734.2" stroke="#000" stroke-width="1.55"/>
<text transform="translate(74.6,738.5) scale(1.09,1)" font-size="12.2" text-anchor="end">80</text>
<line x1="250.96" y1="896.6" x2="250.96" y2="900.8" stroke="#000" stroke-width="1.55"/>
<text transform="translate(250.96,916.6) scale(1.09,1)" font-size="12.2" text-anchor="middle">80</text>
<line x1="81.6" y1="693.6" x2="85.2" y2="693.6" stroke="#000" stroke-width="1.55"/>
<text transform="translate(74.6,697.9) scale(1.09,1)" font-size="12.2" text-anchor="end">100</text>
<line x1="292.4" y1="896.6" x2="292.4" y2="900.8" stroke="#000" stroke-width="1.55"/>
<text transform="translate(292.4,916.6) scale(1.09,1)" font-size="12.2" text-anchor="middle">100</text>
<text transform="translate(91.3,709.9) scale(1.11,1)" font-size="12">MAD: 5.43 yrs.</text>
<text transform="translate(188.7,933) scale(1.09,1)" font-size="12" text-anchor="middle" word-spacing="0.2">Chronological age (years)</text>
<text transform="translate(48.3,794.6) scale(1.06,1) rotate(-90)" font-size="12.7" text-anchor="middle" word-spacing="1">Predicted age (years)</text>
<rect x="396.6" y="693.8" width="208.2" height="200.6" fill="none" stroke="#000" stroke-width="1.55"/>
<line x1="396.6" y1="894.4" x2="604.8" y2="693.8" stroke="#6a6a6a" stroke-width="1.15" stroke-dasharray="0.01,2.75" stroke-linecap="round"/>
<circle cx="446.6" cy="826.5" r="2.3" fill="#000"/>
<circle cx="457.2" cy="821.2" r="2.3" fill="#000"/>
<circle cx="467.2" cy="818.2" r="2.3" fill="#000"/>
<circle cx="467.5" cy="824.9" r="2.3" fill="#000"/>
<circle cx="461.2" cy="826.8" r="2.3" fill="#000"/>
<circle cx="440.4" cy="839.1" r="2.3" fill="#000"/>
<circle cx="440.4" cy="844.4" r="2.3" fill="#000"/>
<circle cx="448.5" cy="839.1" r="2.3" fill="#000"/>
<circle cx="484.7" cy="806.5" r="2.3" fill="#000"/>
<circle cx="484.7" cy="795.6" r="2.3" fill="#000"/>
<circle cx="521.6" cy="766.9" r="2.3" fill="#000"/>
<circle cx="511.4" cy="770.4" r="2.3" fill="#000"/>
<circle cx="507.3" cy="775.5" r="2.3" fill="#000"/>
<circle cx="505.1" cy="779.6" r="2.3" fill="#000"/>
<circle cx="498.7" cy="777.4" r="2.3" fill="#000"/>
<circle cx="498.7" cy="780.6" r="2.3" fill="#000"/>
<circle cx="501.2" cy="784.1" r="2.3" fill="#000"/>
<circle cx="503.2" cy="786.7" r="2.3" fill="#000"/>
<circle cx="496.5" cy="786.3" r="2.3" fill="#000"/>
<circle cx="494.6" cy="790.5" r="2.3" fill="#000"/>
<circle cx="494.6" cy="792.7" r="2.3" fill="#000"/>
<circle cx="490.4" cy="797.2" r="2.3" fill="#000"/>
<circle cx="490.4" cy="803.5" r="2.3" fill="#000"/>
<circle cx="498.7" cy="800.7" r="2.3" fill="#000"/>
<circle cx="499" cy="806.4" r="2.3" fill="#000"/>
<circle cx="498.7" cy="810.5" r="2.3" fill="#000"/>
<circle cx="492.6" cy="813.1" r="2.3" fill="#000"/>
<circle cx="507" cy="798.1" r="2.3" fill="#000"/>
<circle cx="511.4" cy="798.1" r="2.3" fill="#000"/>
<circle cx="515.6" cy="803.9" r="2.3" fill="#000"/>
<circle cx="509.2" cy="786.7" r="2.3" fill="#000"/>
<circle cx="511.1" cy="789.2" r="2.3" fill="#000"/>
<circle cx="508.6" cy="791.1" r="2.3" fill="#000"/>
<circle cx="511.8" cy="792.4" r="2.3" fill="#000"/>
<circle cx="513.7" cy="790.5" r="2.3" fill="#000"/>
<circle cx="513.7" cy="784.1" r="2.3" fill="#000"/>
<circle cx="515.6" cy="781.6" r="2.3" fill="#000"/>
<circle cx="517.5" cy="780.3" r="2.3" fill="#000"/>
<circle cx="516.2" cy="786" r="2.3" fill="#000"/>
<circle cx="518.8" cy="778.4" r="2.3" fill="#000"/>
<circle cx="519.4" cy="782.2" r="2.3" fill="#000"/>
<circle cx="516.9" cy="776.5" r="2.3" fill="#000"/>
<circle cx="523.9" cy="775.8" r="2.3" fill="#000"/>
<circle cx="519.7" cy="788.6" r="2.3" fill="#000"/>
<circle cx="527.4" cy="770.7" r="2.3" fill="#000"/>
<circle cx="527.7" cy="780" r="2.3" fill="#000"/>
<circle cx="527.4" cy="787.6" r="2.3" fill="#000"/>
<circle cx="540.5" cy="743.3" r="2.3" fill="#000"/>
<circle cx="544.6" cy="745.8" r="2.3" fill="#000"/>
<circle cx="551.2" cy="742.3" r="2.3" fill="#000"/>
<circle cx="538.6" cy="751.9" r="2.3" fill="#000"/>
<circle cx="551.2" cy="752.3" r="2.3" fill="#000"/>
<circle cx="536.3" cy="757.3" r="2.3" fill="#000"/>
<circle cx="540.8" cy="759.2" r="2.3" fill="#000"/>
<circle cx="536.7" cy="762.7" r="2.3" fill="#000"/>
<circle cx="538.9" cy="763.7" r="2.3" fill="#000"/>
<circle cx="542.4" cy="766.8" r="2.3" fill="#000"/>
<circle cx="530.6" cy="766.8" r="2.3" fill="#000"/>
<circle cx="528.1" cy="773.2" r="2.3" fill="#000"/>
<circle cx="538.6" cy="771.3" r="2.3" fill="#000"/>
<circle cx="536.3" cy="776.1" r="2.3" fill="#000"/>
<circle cx="542.4" cy="774.5" r="2.3" fill="#000"/>
<circle cx="545" cy="774.5" r="2.3" fill="#000"/>
<circle cx="544.6" cy="779.6" r="2.3" fill="#000"/>
<circle cx="551.2" cy="777.5" r="2.3" fill="#000"/>
<line x1="393" y1="894.4" x2="396.6" y2="894.4" stroke="#000" stroke-width="1.55"/>
<text transform="translate(386,898.7) scale(1.09,1)" font-size="12.2" text-anchor="end">0</text>
<line x1="396.6" y1="894.4" x2="396.6" y2="898.6" stroke="#000" stroke-width="1.55"/>
<text transform="translate(396.6,913.6) scale(1.09,1)" font-size="12.2" text-anchor="middle">0</text>
<line x1="393" y1="854.28" x2="396.6" y2="854.28" stroke="#000" stroke-width="1.55"/>
<text transform="translate(386,858.58) scale(1.09,1)" font-size="12.2" text-anchor="end">20</text>
<line x1="438.24" y1="894.4" x2="438.24" y2="898.6" stroke="#000" stroke-width="1.55"/>
<text transform="translate(438.24,913.6) scale(1.09,1)" font-size="12.2" text-anchor="middle">20</text>
<line x1="393" y1="814.16" x2="396.6" y2="814.16" stroke="#000" stroke-width="1.55"/>
<text transform="translate(386,818.46) scale(1.09,1)" font-size="12.2" text-anchor="end">40</text>
<line x1="479.88" y1="894.4" x2="479.88" y2="898.6" stroke="#000" stroke-width="1.55"/>
<text transform="translate(479.88,913.6) scale(1.09,1)" font-size="12.2" text-anchor="middle">40</text>
<line x1="393" y1="774.04" x2="396.6" y2="774.04" stroke="#000" stroke-width="1.55"/>
<text transform="translate(386,778.34) scale(1.09,1)" font-size="12.2" text-anchor="end">60</text>
<line x1="521.52" y1="894.4" x2="521.52" y2="898.6" stroke="#000" stroke-width="1.55"/>
<text transform="translate(521.52,913.6) scale(1.09,1)" font-size="12.2" text-anchor="middle">60</text>
<line x1="393" y1="733.92" x2="396.6" y2="733.92" stroke="#000" stroke-width="1.55"/>
<text transform="translate(386,738.22) scale(1.09,1)" font-size="12.2" text-anchor="end">80</text>
<line x1="563.16" y1="894.4" x2="563.16" y2="898.6" stroke="#000" stroke-width="1.55"/>
<text transform="translate(563.16,913.6) scale(1.09,1)" font-size="12.2" text-anchor="middle">80</text>
<line x1="393" y1="693.8" x2="396.6" y2="693.8" stroke="#000" stroke-width="1.55"/>
<text transform="translate(386,698.1) scale(1.09,1)" font-size="12.2" text-anchor="end">100</text>
<line x1="604.8" y1="894.4" x2="604.8" y2="898.6" stroke="#000" stroke-width="1.55"/>
<text transform="translate(604.8,913.6) scale(1.09,1)" font-size="12.2" text-anchor="middle">100</text>
<text transform="translate(403.8,708.8) scale(1.11,1)" font-size="12">MAD: 4.49 yrs.</text>
<text transform="translate(501.2,930.4) scale(1.09,1)" font-size="12" text-anchor="middle" word-spacing="0.2">Chronological age (years)</text>
<text transform="translate(359.6,793.6) scale(1.06,1) rotate(-90)" font-size="12.7" text-anchor="middle" word-spacing="1">Predicted age (years)</text>
</g>
</svg>
</body></html>
